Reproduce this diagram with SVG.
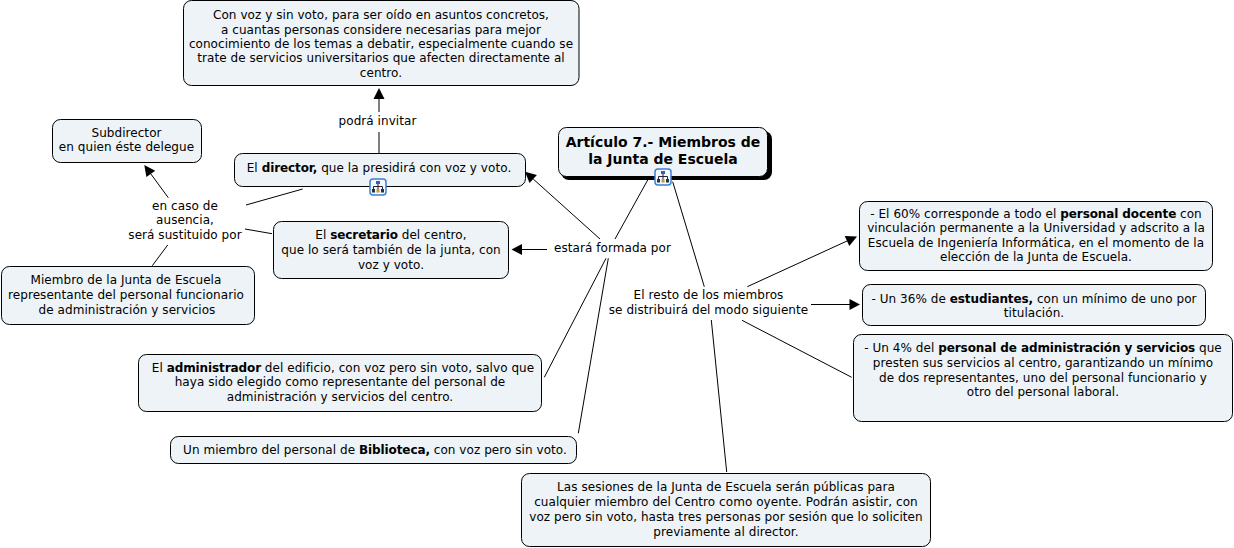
<svg xmlns="http://www.w3.org/2000/svg" width="1234" height="548" viewBox="0 0 1234 548">
<style>
text{font-family:"DejaVu Sans",Verdana,sans-serif;font-size:12px;fill:#000;text-anchor:middle;letter-spacing:.06px}
.b{font-weight:bold;letter-spacing:-.1px}
.n{fill:#edf3f6;stroke:#000;stroke-width:1}
.c{fill:none;stroke:#000;stroke-width:1}
.a{fill:#000;stroke:none}
.t{font-size:14px;font-weight:bold;letter-spacing:0}
</style>
<defs>
<g id="ic">
<rect x="-8" y="-8" width="16" height="16" rx="3" fill="#f4f8fd" stroke="#3a7fd5" stroke-width="1.500"/>
<path d="M0 -3V2M-4.500 2V-.5H4.500V2" fill="none" stroke="#223" stroke-width="1"/>
<rect x="-2" y="-6" width="4" height="3" fill="#3a5fa8"/>
<rect x="-6" y="2" width="3" height="3.500" fill="#234"/><rect x="-1.500" y="2" width="3" height="3.500" fill="#c93"/><rect x="3" y="2" width="3" height="3.500" fill="#234"/>
</g>
</defs>
<rect width="1234" height="548" fill="#fff"/>
<g id="connectors">
<path class="c" d="M379 153V132M379 112V98"/>
<path class="c" d="M302.700 189L246 205M245 229L272 233.700M168.300 197.700L150.800 173.900M167.700 245L152.300 265.700"/>
<path class="c" d="M647.700 180L615 239M600 239L533.200 179M547 249.500H522M606 258.300L544.300 377.300M608.300 258.300L578.300 433.300"/>
<path class="c" d="M672.700 181.700L704.300 286.700M747.300 286.700L847 241M811 304.500H850M742 320.300L851.700 377.300M711.300 320L726.700 472"/>
<polygon class="a" points="379,88 373.500,99 384.500,99"/>
<polygon class="a" points="144.300,165 155.200,170.700 146.400,177.100"/>
<polygon class="a" points="525,171.700 536.900,174.900 529.500,183.100"/>
<polygon class="a" points="511.500,249.500 522,244 522,255"/>
<polygon class="a" points="857,236.500 849.300,246 844.700,236"/>
<polygon class="a" points="860,304.500 849.500,299 849.500,310"/>
</g>
<g id="n-invitar"><rect class="n" x="183.500" y="0.500" width="395.500" height="85" rx="8"/>
<text x="381" y="19">Con voz y sin voto, para ser oído en asuntos concretos,</text>
<text x="381" y="34">a cuantas personas considere necesarias para mejor</text>
<text x="381" y="48">conocimiento de los temas a debatir, especialmente cuando se</text>
<text x="381" y="62">trate de servicios universitarios que afecten directamente al</text>
<text x="381" y="77">centro.</text></g>
<g id="l-invitar"><text x="377.500" y="125">podrá invitar</text></g>
<g id="n-sub"><rect class="n" x="52.500" y="119.500" width="149" height="43" rx="8"/>
<text x="126.500" y="137">Subdirector</text><text x="126.500" y="151">en quien éste delegue</text></g>
<g id="n-dir"><rect class="n" x="234.500" y="153.500" width="291" height="33" rx="8"/>
<text x="379" y="172">El <tspan class="b">director,</tspan> que la presidirá con voz y voto.</text>
<use href="#ic" x="378" y="187"/></g>
<g id="n-art"><rect x="561" y="131" width="211" height="49" rx="8" fill="#000"/><rect class="n" x="558.500" y="127.500" width="209" height="49" rx="8"/>
<text class="t" x="663" y="147">Artículo 7.- Miembros de</text><text class="t" x="663" y="164">la Junta de Escuela</text>
<use href="#ic" x="663" y="177"/></g>
<g id="l-ausencia"><text x="185" y="210">en caso de</text><text x="185" y="224">ausencia,</text><text x="185" y="239">será sustituido por</text></g>
<g id="n-sec"><rect class="n" x="273.500" y="221.500" width="235" height="57" rx="8"/>
<text x="391" y="239">El <tspan class="b">secretario</tspan> del centro,</text><text x="391" y="254">que lo será también de la junta, con</text><text x="391" y="269">voz y voto.</text></g>
<g id="l-formada"><text x="612.500" y="252">estará formada por</text></g>
<g id="n-func"><rect class="n" x="1.500" y="266.500" width="253" height="58" rx="8"/>
<text x="126" y="284">Miembro de la Junta de Escuela</text><text x="126" y="299">representante del personal funcionario</text><text x="127" y="314">de administración y servicios</text></g>
<g id="n-60"><rect class="n" x="859.500" y="201.500" width="353" height="69" rx="8"/>
<text x="1036" y="218">- El 60% corresponde a todo el <tspan class="b">personal docente</tspan> con</text>
<text x="1036" y="232">vinculación permanente a la Universidad y adscrito a la</text>
<text x="1036" y="247">Escuela de Ingeniería Informática, en el momento de la</text>
<text x="1036" y="261">elección de la Junta de Escuela.</text></g>
<g id="l-resto"><text x="708.500" y="299">El resto de los miembros</text><text x="708.500" y="314">se distribuirá del modo siguiente</text></g>
<g id="n-36"><rect class="n" x="862.500" y="284.500" width="343" height="41" rx="8"/>
<text x="1034" y="303">- Un 36% de <tspan class="b">estudiantes,</tspan> con un mínimo de uno por</text><text x="1034" y="317">titulación.</text></g>
<g id="n-4"><rect class="n" x="853.500" y="334.500" width="379" height="87" rx="8"/>
<text x="1043" y="352">- Un 4% del <tspan class="b">personal de administración y servicios</tspan> que</text>
<text x="1043" y="367">presten sus servicios al centro, garantizando un mínimo</text>
<text x="1043" y="382">de dos representantes, uno del personal funcionario y</text>
<text x="1043" y="396">otro del personal laboral.</text></g>
<g id="n-admin"><rect class="n" x="138.500" y="354.500" width="403" height="57" rx="8"/>
<text x="343" y="372">El <tspan class="b">administrador</tspan> del edificio, con voz pero sin voto, salvo que</text>
<text x="340" y="386">haya sido elegido como representante del personal de</text>
<text x="340" y="401">administración y servicios del centro.</text></g>
<g id="n-bib"><rect class="n" x="170.500" y="436.500" width="406" height="27" rx="8"/>
<text x="375" y="454">Un miembro del personal de <tspan class="b">Biblioteca,</tspan> con voz pero sin voto.</text></g>
<g id="n-ses"><rect class="n" x="521.500" y="473.500" width="409" height="73" rx="8"/>
<text x="726" y="491">Las sesiones de la Junta de Escuela serán públicas para</text>
<text x="726" y="506">cualquier miembro del Centro como oyente. Podrán asistir, con</text>
<text x="726" y="521">voz pero sin voto, hasta tres personas por sesión que lo soliciten</text>
<text x="726" y="536">previamente al director.</text></g>
</svg>
